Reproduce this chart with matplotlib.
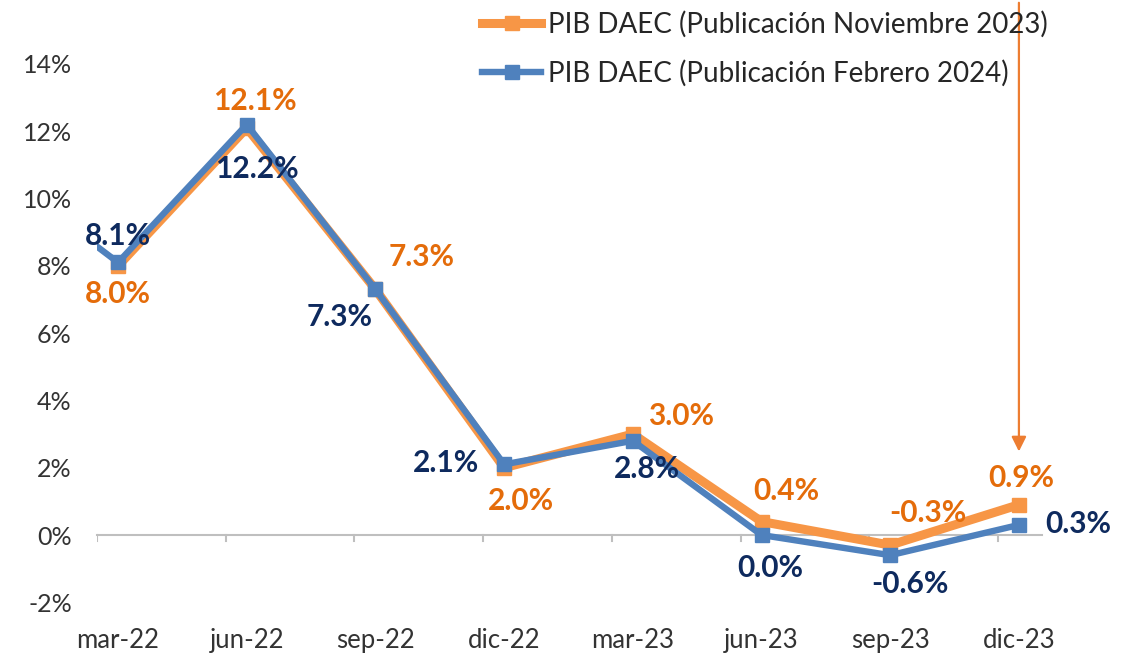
import matplotlib
matplotlib.use("Agg")
from matplotlib import pyplot as plt

# data
quarters = ["mar-22", "jun-22", "sep-22", "dic-22", "mar-23", "jun-23", "sep-23", "dic-23"]
pib_nov23 = [8.0, 12.1, 7.3, 2.0, 3.0, 0.4, -0.3, 0.9]
pib_feb24 = [8.1, 12.2, 7.3, 2.1, 2.8, 0.0, -0.6, 0.3]
pib_feb24_prev = 11.0  # dic-21, clipped at the left edge
yticks = [-2, 0, 2, 4, 6, 8, 10, 12, 14]
label_nov = "PIB DAEC (Publicación Noviembre 2023)"
label_feb = "PIB DAEC (Publicación Febrero 2024)"

# label offsets in points (dx, dy, ha)
off_nov = [(0, -20, "center"), (6, 19, "center"), (33, 23, "center"), (12, -24, "center"),
           (35, 13, "center"), (18, 22, "center"), (27, 23, "center"), (2, 19, "center")]
off_feb = [(0, 19, "center"), (7, -32, "center"), (-26, -20, "center"), (-42, 1, "center"),
           (10, -20, "center"), (6, -24, "center"), (14, -21, "center"), (19, 1, "left")]

ORANGE = "#F79646"
BLUE = "#4F81BD"
ORANGE_TXT = "#E46C0A"
BLUE_TXT = "#0E2A5E"
FONT = "Lato"

plt.rcParams['font.family'] = [FONT, 'DejaVu Sans']

fig = plt.figure(figsize=(11.35, 6.53), dpi=100)
ax = fig.add_axes([0.0853, 0.0467, 0.8351, 0.9533])

x = list(range(len(quarters)))

ax.plot(x, pib_nov23, color=ORANGE, lw=6.5, marker="s", ms=10, zorder=2,
        solid_joinstyle="miter", label=label_nov)
ax.plot([-1] + x, [pib_feb24_prev] + pib_feb24, color=BLUE, lw=4.6, marker="s", ms=10,
        markevery=list(range(1, len(x) + 1)), zorder=3, solid_joinstyle="miter", label=label_feb)

for i, v in enumerate(pib_nov23):
    dx, dy, ha = off_nov[i]
    ax.annotate(f"{v:.1f}%", (i, v), xytext=(dx, dy), textcoords="offset points",
                ha=ha, va="center", color=ORANGE_TXT, fontsize=21.5, fontweight="bold", zorder=5)
for i, v in enumerate(pib_feb24):
    dx, dy, ha = off_feb[i]
    ax.annotate(f"{v:.1f}%", (i, v), xytext=(dx, dy), textcoords="offset points",
                ha=ha, va="center", color=BLUE_TXT, fontsize=21.5, fontweight="bold", zorder=5)

ax.set_xlim(-0.165, 7.2)
ax.set_ylim(-2.6, 15.9)

for s in ax.spines.values():
    s.set_visible(False)

# category axis at 0
ax.plot([-0.163, 7.18], [0, 0], color="#BFBFBF", lw=1.5, zorder=1, clip_on=False)
for k in range(len(quarters)):
    ax.plot([k - 0.163, k - 0.163], [0, -0.18], color="#BFBFBF", lw=1.5, zorder=1)

ax.set_xticks(x)
ax.set_xticklabels(quarters)
ax.set_yticks(yticks)
ax.set_yticklabels([f"{t}%" for t in yticks])
ax.tick_params(axis="x", length=0, pad=4, labelsize=18.5, labelcolor="#333333")
ax.tick_params(axis="y", length=0, pad=18, labelsize=18, labelcolor="#333333")

# arrow pointing at dic-23
ax.annotate("", xy=(7, 2.4), xytext=(7, 15.9),
            arrowprops=dict(arrowstyle="-|>", color="#ED7D31", lw=1.6, mutation_scale=22),
            annotation_clip=False)

fig.legend(loc="upper left", bbox_to_anchor=(0.403, 1.022), frameon=False,
           fontsize=20, handlelength=2.1, handletextpad=0.25, labelspacing=0.8,
           labelcolor="#262626")

fig.savefig("out.png", dpi=100)
